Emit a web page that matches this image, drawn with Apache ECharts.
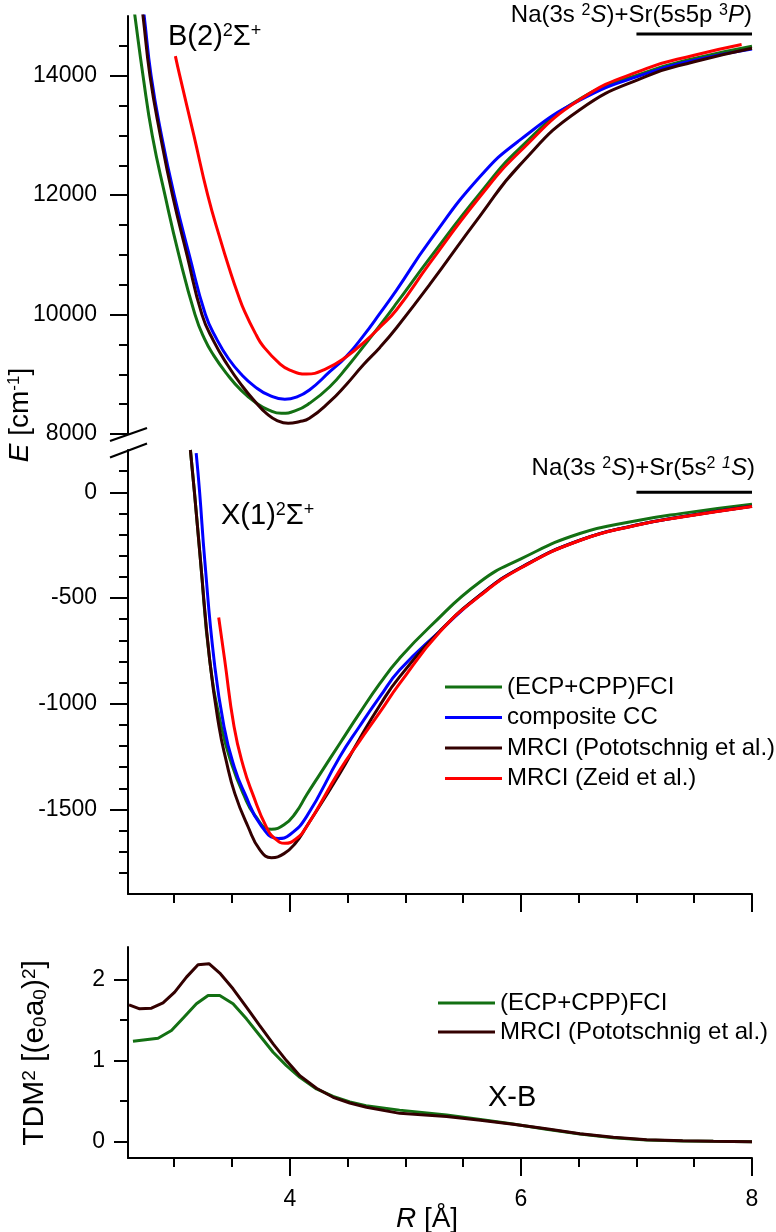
<!DOCTYPE html>
<html><head><meta charset="utf-8">
<script src="https://cdn.jsdelivr.net/npm/echarts@6/dist/echarts.min.js"></script>
<style>html,body{margin:0;padding:0;background:#fff}#c{width:776px;height:1232px}</style>
</head><body><div id="c"></div>
<script>
// ---------------- DATA ----------------
const NAMES = ['(ECP+CPP)FCI', 'composite CC', 'MRCI (Pototschnig et al.)', 'MRCI (Zeid et al.)'];

// R axis ticks
const R_MIN = 2.6, R_MAX = 8;
const X_MAJOR = [4, 6, 8];
const X_MINOR = [3, 3.5, 4.5, 5, 5.5, 6.5, 7, 7.5];

// B(2)2Sigma+ state [R (Å), E (cm-1)]
const B_FCI = [[2.64,15300],[2.66,15000],[2.73,14000],[2.81,13000],[2.92,12000],[3.04,11000],[3.18,10000],[3.26,9600],[3.34,9320],[3.45,9020],[3.58,8730],[3.71,8520],[3.82,8400],[3.928,8346],[4.05,8390],[4.17,8514],[4.346,8792],[4.5,9130],[4.635,9460],[4.78,9820],[4.924,10190],[5.21,10940],[5.645,12029],[5.99,12783],[6.51,13610],[7.09,14065],[7.5,14289],[8.0,14495]];
const B_CC = [[2.72,15300],[2.74,15000],[2.80,14000],[2.89,13000],[3.00,12000],[3.13,11000],[3.27,10000],[3.37,9580],[3.47,9260],[3.58,9000],[3.70,8790],[3.82,8650],[3.957,8581],[4.06,8620],[4.17,8737],[4.346,9043],[4.49,9300],[4.635,9640],[4.78,10020],[4.924,10410],[5.21,11230],[5.645,12307],[5.99,12921],[6.51,13590],[7.09,14040],[7.5,14261],[8.0,14445]];
const B_MP = [[2.71,15300],[2.73,15000],[2.79,14000],[2.88,13000],[2.985,12000],[3.11,11000],[3.24,10000],[3.34,9560],[3.46,9160],[3.59,8800],[3.71,8520],[3.80,8340],[3.89,8225],[3.986,8179],[4.08,8205],[4.17,8263],[4.346,8541],[4.49,8830],[4.635,9155],[4.78,9450],[4.924,9780],[5.21,10500],[5.645,11650],[5.99,12503],[6.51,13430],[7.09,13993],[7.5,14233],[8.0,14460]];
const B_Z = [[3.01,14328],[3.048,14000],[3.17,13000],[3.29,12000],[3.40,11250],[3.48,10750],[3.55,10350],[3.61,10050],[3.71,9657],[3.77,9470],[3.91,9183],[4.0,9070],[4.145,9004],[4.3,9080],[4.49,9294],[4.664,9574],[4.78,9790],[4.924,10080],[5.21,10858],[5.645,11973],[5.99,12726],[6.51,13600],[7.09,14122],[7.5,14344],[7.91,14524]];
const B_ASYM = [[7,14700],[8,14700]];

// X(1)2Sigma+ state [R (Å), E (cm-1)]
const X_FCI = [[3.14,200],[3.175,0],[3.227,-321],[3.307,-794],[3.408,-1109],[3.50,-1290],[3.596,-1424],[3.70,-1530],[3.841,-1594],[3.95,-1573],[4.05,-1517],[4.145,-1432],[4.26,-1334],[4.433,-1188],[4.6,-1048],[4.78,-904],[4.95,-785],[5.21,-637],[5.645,-424],[6.0,-315],[6.51,-195],[7.0,-135],[7.38,-101],[8.0,-57]];
const X_CC = [[3.19,185],[3.22,0],[3.264,-321],[3.345,-794],[3.431,-1109],[3.52,-1300],[3.61,-1424],[3.75,-1575],[3.90,-1637],[4.0,-1620],[4.145,-1534],[4.433,-1251],[4.6,-1110],[4.78,-967],[4.95,-841],[5.3,-656],[5.645,-487],[6.0,-356],[6.51,-227],[7.0,-155],[7.38,-117],[8.0,-66]];
const X_MP = [[3.14,200],[3.175,0],[3.227,-321],[3.307,-794],[3.388,-1109],[3.45,-1270],[3.524,-1424],[3.639,-1582],[3.74,-1690],[3.841,-1728],[3.95,-1709],[4.05,-1659],[4.144,-1582],[4.433,-1330],[4.6,-1170],[4.78,-1007],[4.95,-873],[5.3,-656],[5.645,-487],[6.0,-356],[6.51,-227],[7.0,-155],[7.38,-117],[8.0,-66]];
const X_Z = [[3.385,-592],[3.437,-794],[3.518,-1109],[3.60,-1300],[3.677,-1424],[3.80,-1586],[3.88,-1642],[3.957,-1660],[4.05,-1641],[4.145,-1582],[4.433,-1314],[4.6,-1180],[4.78,-1040],[4.95,-905],[5.3,-660],[5.645,-490],[6.0,-358],[6.51,-228],[7.0,-156],[7.38,-118],[8.0,-67]];
const X_ASYM = [[7,0],[8,0]];

// X-B transition dipole moment squared [R (Å), TDM^2]
const TDM_FCI = [[2.643,1.24],[2.86,1.276],[2.976,1.371],[3.076,1.523],[3.192,1.70],[3.293,1.803],[3.394,1.803],[3.509,1.70],[3.625,1.515],[3.74,1.309],[3.856,1.103],[3.971,0.938],[4.087,0.795],[4.231,0.651],[4.375,0.56],[4.52,0.49],[4.66,0.445],[4.95,0.39],[5.357,0.33],[5.65,0.275],[5.933,0.218],[6.22,0.155],[6.511,0.095],[6.8,0.05],[7.088,0.021],[7.4,0.01],[7.665,0.005],[8.0,0.0]];
const TDM_MP = [[2.609,1.688],[2.701,1.638],[2.803,1.646],[2.903,1.712],[3.004,1.844],[3.106,2.029],[3.206,2.181],[3.301,2.194],[3.394,2.079],[3.509,1.885],[3.625,1.659],[3.74,1.432],[3.856,1.206],[3.971,1.0],[4.087,0.815],[4.231,0.659],[4.375,0.548],[4.519,0.478],[4.664,0.425],[4.952,0.35],[5.357,0.31],[5.65,0.265],[5.933,0.215],[6.22,0.16],[6.511,0.10],[6.8,0.055],[7.088,0.025],[7.4,0.012],[7.665,0.006],[8.0,0.0]];

// y axis ticks
const YB_MIN = 8000, YB_MAX = 15000;
const YB_MAJOR = [8000, 10000, 12000, 14000];
const YB_MINOR = [8500, 9000, 9500, 10500, 11000, 11500, 12500, 13000, 13500, 14500];
const YX_MIN = -1900, YX_MAX = 200;
const YX_MAJOR = [0, -500, -1000, -1500];
const YX_MINOR = [100, -100, -200, -300, -400, -600, -700, -800, -900, -1100, -1200, -1300, -1400, -1600, -1700, -1800];
const YT_MIN = -0.2, YT_MAX = 2.4;
const YT_MAJOR = [0, 1, 2];
const YT_MINOR = [0.5, 1.5];

// ---------------- STYLE ----------------
const FONT = '"Liberation Sans", Arial, Helvetica, sans-serif';
const COLORS = ['#137013', '#0000ff', '#330000', '#ff0000'];
const AX = { color: '#000', width: 2 };

function axis(kind, gridIndex, min, max, ticks, len, opts) {
  opts = opts || {};
  const a = {
    type: 'value', gridIndex, min, max,
    splitLine: { show: false },
    axisLine: { show: !!opts.line, onZero: false, lineStyle: AX },
    axisTick: { show: !!ticks, customValues: ticks || [], length: len, lineStyle: AX, inside: false },
    axisLabel: { show: false }
  };
  a.position = kind === 'y' ? 'left' : 'bottom';
  if (opts.labels) {
    a.axisLabel = { show: true, customValues: ticks, margin: opts.margin, fontSize: 23, color: '#000',
      fontFamily: FONT, formatter: (v) => String(v) };
  }
  if (opts.hidden) a.show = false;
  return a;
}

const xAxis = [
  axis('x', 0, R_MIN, R_MAX, null, 0, { hidden: true }),
  axis('x', 1, R_MIN, R_MAX, X_MAJOR, 18, { line: true }),
  axis('x', 1, R_MIN, R_MAX, X_MINOR, 9, {}),
  axis('x', 2, R_MIN, R_MAX, X_MAJOR, 18, { line: true, labels: true, margin: 30 }),
  axis('x', 2, R_MIN, R_MAX, X_MINOR, 9, {})
];
const yAxis = [
  axis('y', 0, YB_MIN, YB_MAX, YB_MAJOR, 18, { line: true, labels: true, margin: 31 }),
  axis('y', 0, YB_MIN, YB_MAX, YB_MINOR, 9, {}),
  axis('y', 1, YX_MIN, YX_MAX, YX_MAJOR, 18, { line: true, labels: true, margin: 31 }),
  axis('y', 1, YX_MIN, YX_MAX, YX_MINOR, 9, {}),
  axis('y', 2, YT_MIN, YT_MAX, YT_MAJOR, 14, { line: true, labels: true, margin: 23 }),
  axis('y', 2, YT_MIN, YT_MAX, YT_MINOR, 8, {})
];

function curve(name, data, color, xi, yi, smooth, width) {
  return {
    type: 'line', name, data, xAxisIndex: xi, yAxisIndex: yi,
    showSymbol: false, symbol: 'none', smooth: smooth,
    color, lineStyle: { color, width: width || 3 }, clip: true, silent: true
  };
}

const SM = 0.5;
const series = [
  curve(NAMES[0], B_FCI, COLORS[0], 0, 0, SM),
  curve(NAMES[1], B_CC, COLORS[1], 0, 0, SM),
  curve(NAMES[2], B_MP, COLORS[2], 0, 0, SM),
  curve(NAMES[3], B_Z, COLORS[3], 0, 0, SM),
  curve('asymB', B_ASYM, '#000', 0, 0, false, 3),
  curve(NAMES[0], X_FCI, COLORS[0], 1, 2, SM),
  curve(NAMES[1], X_CC, COLORS[1], 1, 2, SM),
  curve(NAMES[2], X_MP, COLORS[2], 1, 2, SM),
  curve(NAMES[3], X_Z, COLORS[3], 1, 2, SM),
  curve('asymX', X_ASYM, '#000', 1, 2, false, 3),
  curve(NAMES[0], TDM_FCI, COLORS[0], 3, 4, false, 3),
  curve(NAMES[2], TDM_MP, COLORS[2], 3, 4, false, 3)
];

const legendText = { fontSize: 24, color: '#000', fontFamily: FONT, lineHeight: 24 };
const legend = [
  { data: NAMES, orient: 'vertical', left: 445, top: 675, itemWidth: 57, itemHeight: 3, icon: 'rect',
    itemGap: 6.5, padding: 0, selectedMode: false, textStyle: legendText },
  { data: [NAMES[0], NAMES[2]], orient: 'vertical', left: 438, top: 991, itemWidth: 57, itemHeight: 3, icon: 'rect',
    itemGap: 5, padding: 0, selectedMode: false, textStyle: legendText }
];

function txt(x, y, text, size, align, rich, rotation) {
  return {
    type: 'text', x, y, rotation: rotation || 0, silent: true,
    style: { text, fontSize: size, fontFamily: FONT, fill: '#000', align, verticalAlign: 'middle', rich }
  };
}
const supS = (s) => ({ fontSize: s, verticalAlign: 'top', fill: '#000', fontFamily: FONT });
const supIS = (s) => ({ fontSize: s, verticalAlign: 'top', fill: '#000', fontFamily: FONT, fontStyle: 'italic' });
const subS = (s) => ({ fontSize: s, verticalAlign: 'bottom', fill: '#000', fontFamily: FONT });
const itS = (s) => ({ fontSize: s, fontStyle: 'italic', fill: '#000', fontFamily: FONT });

const graphic = [
  txt(168, 37, 'B(2){sup|2}Σ{sup|+}', 29, 'left', { sup: supS(18) }),
  txt(221, 516, 'X(1){sup|2}Σ{sup|+}', 29, 'left', { sup: supS(18) }),
  txt(488, 1098, 'X-B', 29, 'left', {}),
  txt(752, 15, 'Na(3s {sup|2}{it|S})+Sr(5s5p {sup|3}{it|P})', 24, 'right', { sup: supS(16), it: itS(24) }),
  txt(755, 468, 'Na(3s {sup|2}{it|S})+Sr(5s{sup|2} {supi|1}{it|S})', 24, 'right', { sup: supS(16), supi: supIS(16), it: itS(24) }),
  txt(20, 415, '{it|E} [cm{sup|-1}]', 28, 'center', { sup: supS(17), it: itS(28) }, Math.PI / 2),
  txt(35, 1053, 'TDM{sup|2} [(e{sub|0}a{sub|0}){sup|2}]', 30, 'center', { sup: supS(19), sub: subS(19) }, Math.PI / 2),
  txt(427, 1219, '{it|R} [Å]', 28, 'center', { it: itS(28) }),
  { type: 'line', silent: true, shape: { x1: 110, y1: 441, x2: 147, y2: 428 }, style: { stroke: '#000', lineWidth: 2.2 } },
  { type: 'line', silent: true, shape: { x1: 110, y1: 457.5, x2: 147, y2: 443.5 }, style: { stroke: '#000', lineWidth: 2.2 } }
];

const option = {
  animation: false,
  backgroundColor: '#fff',
  grid: [
    { left: 128, right: 24, top: 16, height: 418 },
    { left: 128, right: 24, top: 450, height: 444 },
    { left: 128, right: 24, top: 947, height: 211 }
  ],
  xAxis, yAxis, series, legend, graphic
};

const chart = echarts.init(document.getElementById('c'), null, { renderer: 'canvas' });
chart.setOption(option);
</script>
</body></html>
